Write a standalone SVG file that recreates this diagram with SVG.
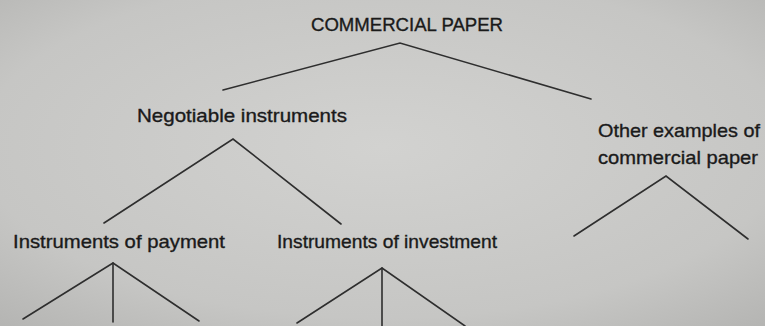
<svg xmlns="http://www.w3.org/2000/svg" width="765" height="326" viewBox="0 0 765 326">
<defs>
<radialGradient id="bg" cx="0.5" cy="0.45" r="0.75">
<stop offset="0" stop-color="#d2d2d0"/>
<stop offset="0.7" stop-color="#c6c6c4"/>
<stop offset="1" stop-color="#b4b4b2"/>
</radialGradient>
<style>
text{font-family:"Liberation Sans",Arial,sans-serif;fill:#1a1a1a;stroke:#1a1a1a;stroke-width:0.35;font-size:19px}
.cap{font-size:19px}
.e{stroke:#2e2e2e;stroke-width:1.6;fill:none;stroke-linecap:round}
</style>
</defs>
<rect width="765" height="326" fill="url(#bg)"/>
<g id="connectors">
<polyline class="e" points="223,90 400,43 591,99"/>
<polyline class="e" points="104,223 233,139 341,224"/>
<polyline class="e" points="23,319 113,263 199,321"/>
<line class="e" x1="113" y1="263" x2="113" y2="322"/>
<polyline class="e" points="297,323 382,268 465,326"/>
<line class="e" x1="382" y1="268" x2="382" y2="326"/>
<polyline class="e" points="574,236 666,176 748,239"/>
</g>
<g id="commercial-paper"><text class="cap" x="311" y="31" textLength="192" lengthAdjust="spacingAndGlyphs">COMMERCIAL PAPER</text></g>
<g id="negotiable"><text x="137" y="122" textLength="210" lengthAdjust="spacingAndGlyphs">Negotiable instruments</text></g>
<g id="other"><text x="598" y="137" textLength="162" lengthAdjust="spacingAndGlyphs">Other examples of</text><text x="598" y="164" textLength="160" lengthAdjust="spacingAndGlyphs">commercial paper</text></g>
<g id="payment"><text x="13" y="248" textLength="212" lengthAdjust="spacingAndGlyphs">Instruments of payment</text></g>
<g id="investment"><text x="277" y="248" textLength="220" lengthAdjust="spacingAndGlyphs">Instruments of investment</text></g>
</svg>
